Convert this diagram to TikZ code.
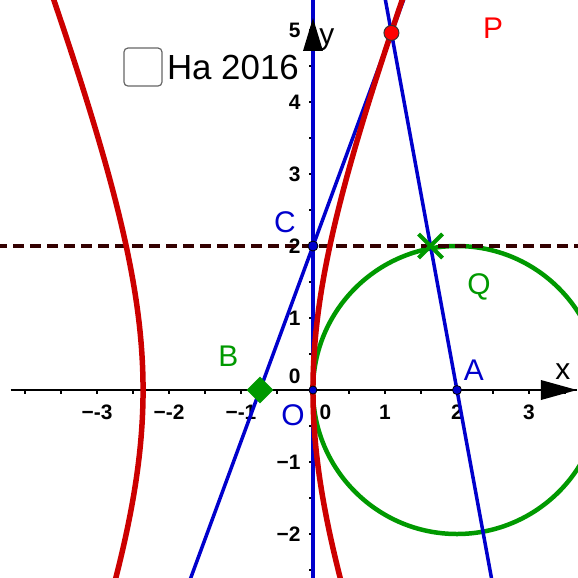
\documentclass[tikz,border=0pt]{standalone}
\usepackage{fontspec}
\setmainfont{Liberation Sans}
\usetikzlibrary{arrows.meta,positioning,shapes.geometric,calc}
\definecolor{GeoRed}{HTML}{CC0000}
\definecolor{PtRed}{HTML}{FF0000}
\definecolor{GeoBlue}{HTML}{0000CC}
\definecolor{GeoGreen}{HTML}{009900}
\definecolor{DashBrown}{HTML}{330000}
\definecolor{BoxGray}{HTML}{666666}
\tikzset{
  axis/.style={line width=1.6bp, draw=black},
  axtick/.style={line width=1.6bp, draw=black},
  ticklabel/.style={font=\fontsize{21}{21}\selectfont\bfseries, inner sep=0pt},
  ptlabel/.style={font=\fontsize{30}{30}\selectfont, inner sep=0pt},
  blueline/.style={line width=3.5bp, draw=GeoBlue},
  redcurve/.style={line width=5.5bp, draw=GeoRed},
  greencircle/.style={line width=4.5bp, draw=GeoGreen},
  dashline/.style={line width=4bp, draw=DashBrown, dash pattern=on 11bp off 6bp},
  bluedot/.style={circle, fill=GeoBlue, draw=black, line width=0.8bp, inner sep=0pt},
  reddot/.style={circle, fill=PtRed, draw=black!80, line width=1bp, minimum size=15bp, inner sep=0pt},
  greendiamond/.style={diamond, fill=GeoGreen, minimum size=27bp, inner sep=0pt},
  greencross/.style={line width=4bp, draw=GeoGreen}
}
\begin{document}
\begin{tikzpicture}[x=72bp,y=72bp]
\useasboundingbox (-4.347,-2.611) rectangle (3.681,5.417);
\clip (-4.347,-2.611) rectangle (3.681,5.417);
% points
\coordinate (O) at (0,0);
\coordinate (A) at (2,0);
\coordinate (C) at (0,2);
\coordinate (P) at (1.09,4.96);
\coordinate (B) at (-0.736,0);
\coordinate (X) at (1.633,2);
% axes
\draw[axis] (-4.2,0) -- (3.667,0);
\draw[axis] (0,-2.7) -- (0,5.167);
\foreach \i in {-8,...,7} \draw[axtick] (\i/2,0) -- ++(0,-3.5bp);
\foreach \i in {-5,...,10} \draw[axtick] (0,\i/2) -- ++(-3.5bp,0);
\foreach \k in {-3,-2,-1} \node[ticklabel, anchor=north] at (\k,-0.208) {−\k};
\foreach \k in {1,2,3} \node[ticklabel, anchor=north] at (\k,-0.208) {\k};
\node[ticklabel, anchor=north] at (0.174,-0.208) {0};
\foreach \k in {1,...,5} \node[ticklabel, anchor=east] at (-0.17,\k) {\k};
\foreach \k in {1,2} \node[ticklabel, anchor=east] at (-0.17,-\k) {−\k};
\node[ticklabel, anchor=east] at (-0.17,0.19) {0};
% circle Q and line y=2
\draw[greencircle] (A) circle[radius=2];
\draw[dashline] (-4.4,2) -- (3.8,2);
% lines
\draw[blueline, line width=4bp] (0,-2.7) -- (0,5.5);
\draw[blueline] ($(C)!-1.6!(P)$) -- ($(C)!1.3!(P)$);
\draw[blueline] ($(A)!-0.6!(P)$) -- ($(A)!1.15!(P)$);
% curve P
\draw[redcurve] plot[domain=-2.8:5.6, variable=\t, samples=120] ({-1.18+1.18*sqrt(1+\t*\t/9.16)},\t);
\draw[redcurve] plot[domain=-2.8:5.6, variable=\t, samples=120] ({-1.18-1.18*sqrt(1+\t*\t/9.16)},\t);
% arrow tips
\fill (3.667,0) -- ++(-36bp,10bp) -- ++(0,-20bp) -- cycle;
\fill (0,5.167) -- ++(-10bp,-33bp) -- ++(20bp,0) -- cycle;
% marks
\node[bluedot, minimum size=8bp] at (O) {};
\node[bluedot, minimum size=10bp] at (C) {};
\node[bluedot, minimum size=9bp] at (A) {};
\node[greendiamond] at (B) {};
\draw[greencross] ([shift={(-12bp,-12bp)}]X) -- ([shift={(12bp,12bp)}]X);
\draw[greencross] ([shift={(-12bp,12bp)}]X) -- ([shift={(12bp,-12bp)}]X);
\node[reddot] at (P) {};
% labels
\node[ptlabel, text=PtRed] (lblP) at (2.5,5.021) {P};
\node[ptlabel, text=GeoGreen, anchor=base] (lblQ) at (2.306,1.333) {Q};
\node[ptlabel, text=GeoGreen] (lblB) at (-1.174,0.472) {B};
\node[ptlabel, text=GeoBlue] (lblC) at (-0.389,2.326) {C};
\node[ptlabel, text=GeoBlue] (lblO) at (-0.278,-0.347) {O};
\node[ptlabel, text=GeoBlue] (lblA) at (2.236,0.278) {A};
\node[ptlabel] (lblx) at (3.472,0.25) {x};
\node[ptlabel] (lbly) at (0.194,4.861) {y};
% checkbox
\draw[BoxGray, line width=1.2bp, rounded corners=4bp, fill=white] (-2.625,4.75) rectangle (-2.097,4.222);
\node[font=\fontsize{35}{35}\selectfont, inner sep=0pt, anchor=base west] (ha) at (-2.03,4.306) {Ha 2016};
\end{tikzpicture}
\end{document}
